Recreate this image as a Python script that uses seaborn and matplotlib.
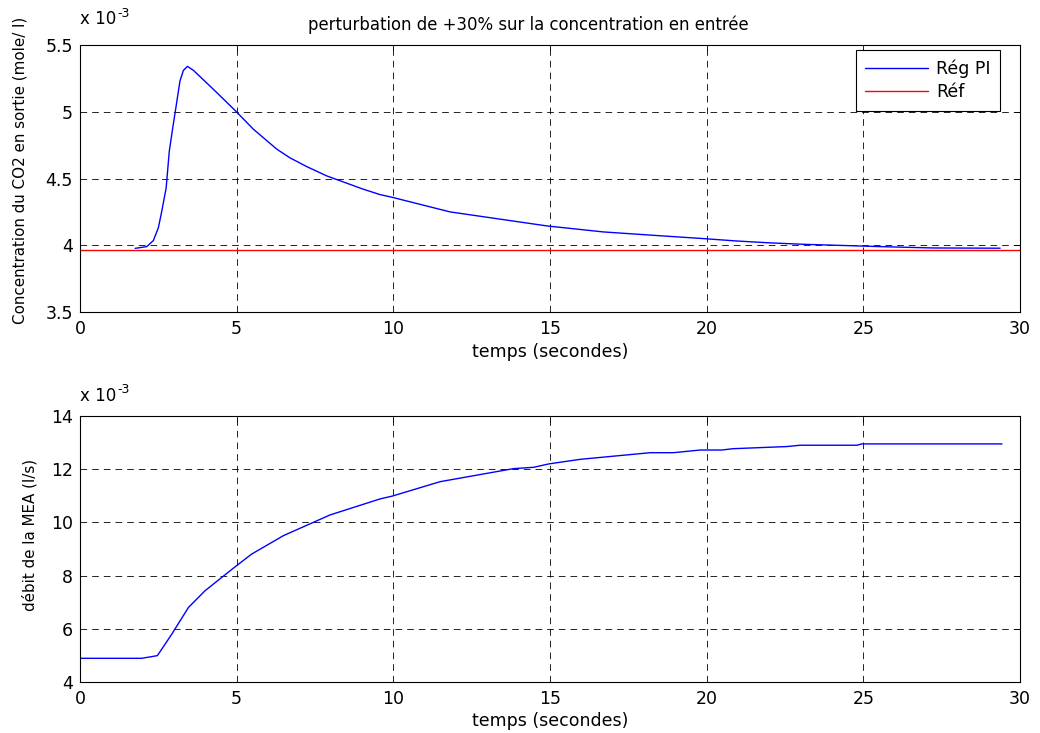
import matplotlib
matplotlib.use("Agg")
import matplotlib.pyplot as plt
import seaborn as sns
import pandas as pd

# Values, in units of 1e-3
t_conc = [1.76, 2.13, 2.34, 2.50, 2.61, 2.75, 2.85, 2.96, 3.06, 3.19, 3.30, 3.43,
          3.62, 4.25, 4.95, 5.53, 6.28, 6.70, 7.23, 7.87, 9.04, 9.57, 9.95, 11.81,
          14.9, 16.7, 18.6, 19.9, 20.9, 21.86, 23.0, 24.15, 25.53, 27.2, 29.36]
conc = [3.977, 3.99, 4.035, 4.13, 4.255, 4.43, 4.705, 4.88, 5.03, 5.23, 5.31, 5.34,
        5.31, 5.17, 5.01, 4.87, 4.72, 4.655, 4.59, 4.52, 4.42, 4.38, 4.36, 4.25,
        4.145, 4.10, 4.07, 4.05, 4.033, 4.02, 4.008, 4.0, 3.99, 3.98, 3.978]
t_ref = [0, 30]
ref = [3.968, 3.968]

t_debit = [0, 1.97, 2.47, 2.93, 3.46, 3.99, 4.95, 5.48, 6.49, 7.98, 9.57, 9.97,
           11.49, 13.83, 14.47, 14.97, 15.96, 18.2, 18.94, 19.79, 20.48, 20.84,
           21.48, 22.55, 22.98, 24.79, 24.95, 29.42]
debit = [4.89, 4.89, 4.99, 5.80, 6.80, 7.43, 8.33, 8.81, 9.50, 10.28, 10.88, 10.99,
         11.53, 12.02, 12.07, 12.20, 12.37, 12.62, 12.62, 12.72, 12.72, 12.77,
         12.80, 12.85, 12.90, 12.90, 12.95, 12.95]

sns.set_style("white")
plt.rcParams['font.family'] = ['DejaVu Sans']
plt.rcParams['text.color'] = 'k'
plt.rcParams['axes.labelcolor'] = 'k'
plt.rcParams['xtick.color'] = 'k'
plt.rcParams['ytick.color'] = 'k'
fs = 12.5

fig = plt.figure(figsize=(10.4, 7.33), dpi=100)
ax1 = fig.add_axes([0.0769, 0.5743, 0.9040, 0.3643])
ax2 = fig.add_axes([0.0769, 0.0696, 0.9040, 0.3629])

df1 = pd.DataFrame({'t': t_conc, 'c': conc})
dfr = pd.DataFrame({'t': t_ref, 'c': ref})
df2 = pd.DataFrame({'t': t_debit, 'd': debit})

sns.lineplot(data=df1, x='t', y='c', ax=ax1, color='#0000ff', lw=1,
             sort=False, estimator=None, label='Rég PI')
sns.lineplot(data=dfr, x='t', y='c', ax=ax1, color='#ff0000', lw=1,
             sort=False, estimator=None, label='Réf')
sns.lineplot(data=df2, x='t', y='d', ax=ax2, color='#0000ff', lw=1,
             sort=False, estimator=None)

for ax, gap in ((ax1, 17), (ax2, 11)):
    ax.set_xlim(0, 30)
    ax.set_xticks(range(0, 31, 5))
    ax.grid(True, color='k', linestyle=(0, (8, 6)), linewidth=0.6)
    ax.tick_params(direction='in', length=4, width=0.6, top=True, right=True,
                   labelsize=fs, colors='k')
    ax.tick_params(axis='x', pad=6)
    ax.tick_params(axis='y', pad=5)
    for s in ax.spines.values():
        s.set_color('k')
        s.set_linewidth(0.8)
    ax.set_xlabel('temps (secondes)', fontsize=fs, labelpad=3)
    base = ax.annotate('x 10', xy=(0, 1), xycoords='axes fraction',
                       xytext=(0, gap), textcoords='offset pixels',
                       fontsize=12, ha='left', va='bottom')
    ax.annotate('-3', xy=(1, 1), xycoords=base, xytext=(1, -3),
                textcoords='offset pixels', fontsize=9, ha='left', va='center')

ax1.set_ylim(3.5, 5.5)
ax1.set_yticks([3.5, 4, 4.5, 5, 5.5])
ax1.set_yticklabels(['3.5', '4', '4.5', '5', '5.5'])
ax1.set_ylabel('Concentration du CO2 en sortie (mole/ l)', fontsize=10.9)
ax1.yaxis.set_label_coords(-0.0553, 0.532)
ax1.set_title('perturbation de +30% sur la concentration en entrée',
              fontsize=11.9, x=0.477, pad=11)
leg = ax1.legend(loc='upper right', bbox_to_anchor=(0.979, 0.981), frameon=True,
                 fancybox=False, fontsize=fs, borderaxespad=0, handlelength=3.6,
                 labelspacing=0.3, borderpad=0.55, handletextpad=0.5)
leg.get_frame().set_edgecolor('k')
leg.get_frame().set_linewidth(0.8)
leg.get_frame().set_alpha(1)

ax2.set_ylim(4, 14)
ax2.set_yticks([4, 6, 8, 10, 12, 14])
ax2.set_ylabel('débit de la MEA (l/s)', fontsize=10.9)
ax2.yaxis.set_label_coords(-0.0457, 0.553)

fig.savefig('out.png', dpi=100)
